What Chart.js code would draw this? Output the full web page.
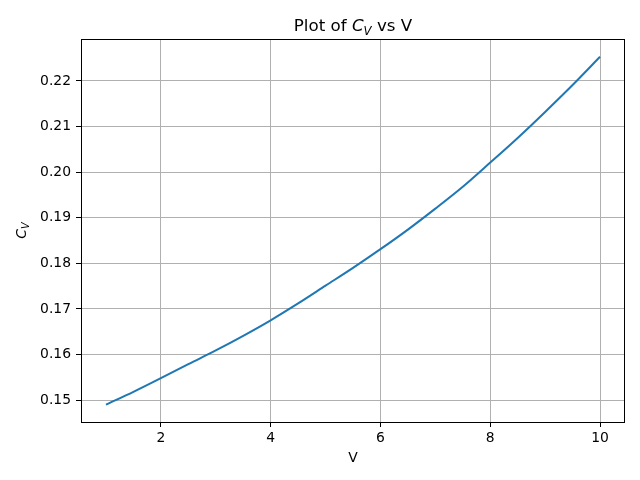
<!DOCTYPE html>
<html>
<head>
<meta charset="utf-8">
<script src="https://cdn.jsdelivr.net/npm/chart.js@4/dist/chart.umd.min.js"></script>
<style>
  html, body { margin: 0; padding: 0; background: #fff; }
  canvas { display: block; }
</style>
</head>
<body>
<canvas id="out" width="640" height="480"></canvas>
<script>
// values
const vValues = [1, 1.5, 2, 2.5, 3, 3.5, 4, 4.5, 5, 5.5, 6, 6.5, 7, 7.5, 8, 8.5, 9, 9.5, 10];
const cvValues = [0.1490, 0.1518, 0.1548, 0.1579, 0.1609, 0.1641, 0.1675, 0.1712, 0.1751, 0.1790,
                  0.1831, 0.1874, 0.1920, 0.1968, 0.2021, 0.2075, 0.2132, 0.2191, 0.2253];
const xTicks = [2, 4, 6, 8, 10];
const yTicks = [0.15, 0.16, 0.17, 0.18, 0.19, 0.20, 0.21, 0.22];
const yTickLabels = ["0.15", "0.16", "0.17", "0.18", "0.19", "0.20", "0.21", "0.22"];

const FONT = "'DejaVu Sans', sans-serif";

// draws title, axis labels (with subscript) and the black frame
const labelsPlugin = {
  id: "labels",
  afterDraw(chart) {
    const ctx = chart.ctx;
    const a = chart.chartArea;
    ctx.save();
    ctx.strokeStyle = "#000";
    ctx.lineWidth = 1;
    ctx.strokeRect(Math.round(a.left) + 0.5, Math.round(a.top) + 0.5, Math.round(a.right - a.left) - 1, Math.round(a.bottom - a.top));

    // title: Plot of C_V vs V
    const big = 16.7, sub = 11.7;
    const parts = [
      { t: "Plot of ", f: big + "px " + FONT, dy: 0 },
      { t: "C", f: "italic " + big + "px " + FONT, dy: 0 },
      { t: "V", f: "italic " + sub + "px " + FONT, dy: 3.5 },
      { t: " vs V", f: big + "px " + FONT, dy: 0 }
    ];
    let w = 0;
    parts.forEach(p => { ctx.font = p.f; p.w = ctx.measureText(p.t).width; w += p.w; });
    let x = (a.left + a.right) / 2 - w / 2;
    ctx.fillStyle = "#000";
    ctx.textBaseline = "alphabetic";
    ctx.textAlign = "left";
    parts.forEach(p => { ctx.font = p.f; ctx.fillText(p.t, x, 31 + p.dy); x += p.w; });

    // x label
    ctx.font = "13.9px " + FONT;
    ctx.textAlign = "center";
    ctx.fillText("V", (a.left + a.right) / 2, 462);

    // y label: C_V rotated
    ctx.translate(26, (a.top + a.bottom) / 2);
    ctx.rotate(-Math.PI / 2);
    const yp = [
      { t: "C", f: "italic 13.9px " + FONT, dy: 0 },
      { t: "V", f: "italic 9.7px " + FONT, dy: 3 }
    ];
    w = 0;
    yp.forEach(p => { ctx.font = p.f; p.w = ctx.measureText(p.t).width; w += p.w; });
    x = -w / 2;
    ctx.textAlign = "left";
    yp.forEach(p => { ctx.font = p.f; ctx.fillText(p.t, x, p.dy); x += p.w; });
    ctx.restore();
  }
};

const canvasCtx = document.getElementById("out").getContext("2d");

const chartConfig = {
  type: "line",
  data: {
    datasets: [{
      data: vValues.map((v, i) => ({ x: v, y: cvValues[i] })),
      borderColor: "#1f77b4",
      borderWidth: 2,
      pointRadius: 0,
      fill: false,
      cubicInterpolationMode: "monotone"
    }]
  },
  options: {
    responsive: false,
    animation: false,
    layout: { padding: { top: 39, right: 15, left: 0, bottom: 0 } },
    plugins: { legend: { display: false }, title: { display: false }, tooltip: { enabled: false } },
    scales: {
      x: {
        type: "linear",
        min: 0.545,
        max: 10.455,
        afterBuildTicks: s => { s.ticks = xTicks.map(v => ({ value: v })); },
        afterFit: s => { s.height = 58; },
        border: { display: false },
        grid: { color: "#b0b0b0", lineWidth: 1, tickColor: "#000", tickLength: 5 },
        ticks: { color: "#000", font: { family: FONT, size: 13.9 }, padding: 3, maxRotation: 0,
                 callback: v => String(v) }
      },
      y: {
        type: "linear",
        min: 0.1452,
        max: 0.2292,
        afterBuildTicks: s => { s.ticks = yTicks.map(v => ({ value: v })); },
        afterFit: s => { s.width = 81; },
        border: { display: false },
        grid: { color: "#b0b0b0", lineWidth: 1, tickColor: "#000", tickLength: 5 },
        ticks: { color: "#000", font: { family: FONT, size: 13.9 }, padding: 5,
                 callback: v => yTickLabels[yTicks.findIndex(t => Math.abs(t - v) < 1e-9)] }
      }
    }
  },
  plugins: [labelsPlugin]
};

window.chart = new Chart(canvasCtx, chartConfig);
</script>
</body>
</html>
